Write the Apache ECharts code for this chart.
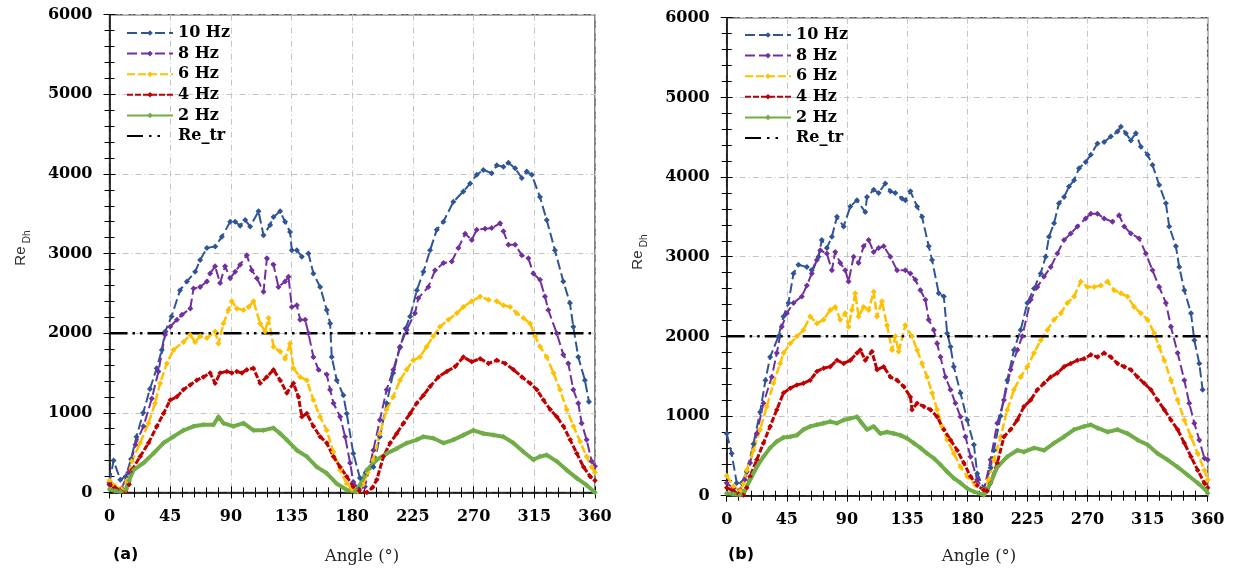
<!DOCTYPE html>
<html>
<head>
<meta charset="utf-8">
<script src="https://cdn.jsdelivr.net/npm/echarts@6/dist/echarts.min.js"></script>
<style>
html,body{margin:0;padding:0;background:#fff;}
#chart{width:1242px;height:571px;}
</style>
</head>
<body>
<div id="chart"></div>
<script>
// ---------------- DATA ----------------
const seriesNames = ['10 Hz', '8 Hz', '6 Hz', '4 Hz', '2 Hz'];
const xTicks = [0, 45, 90, 135, 180, 225, 270, 315, 360];
const yTicks = [0, 1000, 2000, 3000, 4000, 5000, 6000];
const reTransition = [[0, 2000], [360, 2000]];

// Panel (a)
const a10Hz = [[0,120],[3,400],[8,160],[12,200],[16,420],[20,700],[25,1000],[30,1300],[35,1560],[38.8,1790],[41.3,2020],[46,2210],[52.3,2540],[57.4,2650],[63.5,2770],[67.2,2920],[72.2,3070],[78.4,3090],[83.3,3210],[89.5,3400],[93.2,3400],[96.9,3350],[100.6,3420],[104.3,3340],[110.5,3530],[114.2,3230],[119.1,3360],[121.6,3460],[126.5,3530],[130.2,3400],[133.9,3270],[135.2,3040],[138.9,3040],[142.6,2960],[147.5,3000],[151.2,2750],[156.2,2580],[161.1,2290],[163.6,2120],[164.8,1700],[168.5,1410],[173.4,1220],[175.9,990],[180.8,490],[185.7,180],[190,250],[195.7,320],[200.5,700],[205.5,1120],[210.4,1500],[215.4,1820],[219.5,2060],[222.9,2210],[227.9,2540],[232.8,2770],[237.7,3040],[242.7,3300],[247.6,3400],[255,3650],[262.4,3780],[267.4,3880],[272.3,3990],[277.2,4050],[283.4,4010],[287.2,4110],[292.1,4090],[295.8,4140],[300.8,4070],[305.7,3950],[309.4,4030],[313.1,3990],[319.2,3710],[324.2,3420],[330.3,3040],[336.5,2650],[341.4,2380],[343.9,2080],[347.6,1700],[352.5,1410],[355.5,1140]];
const a8Hz = [[0,100],[4,60],[9,50],[14,250],[19.2,600],[25.2,830],[31.4,1180],[36.3,1520],[41.2,1980],[45,2080],[50,2170],[53.7,2230],[59.9,2310],[62.3,2560],[67.2,2580],[72.2,2650],[74.6,2750],[78.3,2840],[82,2630],[85.7,2840],[89.5,2690],[93.2,2770],[96.9,2860],[101.8,2980],[105.5,2790],[109.3,2690],[114.2,2520],[116.7,2940],[121.6,2860],[125.3,2580],[130.2,2650],[132.7,2710],[135.2,2330],[138.9,2350],[141.4,2170],[145.1,2170],[147.5,2000],[151.2,1700],[155,1540],[161.1,1480],[163.6,1290],[166.1,1120],[171,950],[174.7,700],[178.4,370],[180.8,130],[185,40],[189.4,70],[195.6,530],[200.5,910],[205.5,1290],[210.4,1540],[215.4,1830],[220.3,2040],[226.5,2250],[229,2440],[236.4,2580],[241.4,2790],[247.6,2880],[253.8,2900],[258.7,3070],[263.7,3250],[268.6,3170],[272.3,3300],[278.5,3310],[283.4,3320],[289.6,3380],[292.1,3280],[295.8,3110],[300.8,3110],[305.7,2980],[310.6,2940],[314.3,2750],[319.2,2670],[322.9,2460],[325.4,2290],[331.6,2000],[336.5,1730],[340.2,1620],[343.9,1290],[347.6,1120],[350.1,870],[353.8,660],[357.5,390],[360,330]];
const a6Hz = [[0,150],[4,80],[9,40],[13,150],[16.6,390],[22.7,620],[28.9,870],[33.8,1120],[37.5,1370],[42.5,1620],[47.4,1790],[54.9,1890],[59.8,1980],[63.5,1890],[67.2,1960],[72.2,1940],[78.3,2020],[80.8,1870],[84.5,2120],[88.2,2290],[90.7,2400],[94.4,2310],[99.4,2290],[103.1,2330],[106.8,2400],[111.7,2120],[115.4,2020],[117.9,2190],[121.6,1830],[126.5,1770],[130.2,1680],[133.9,1870],[136.4,1560],[141.3,1450],[146.3,1410],[151.2,1160],[156.1,950],[161.1,780],[166,510],[171,280],[175.9,110],[180,40],[184,10],[188,100],[191.5,250],[195.6,410],[200.5,740],[205.5,1040],[210.4,1200],[215.4,1410],[220.3,1540],[225.2,1660],[230.2,1700],[235.1,1830],[240,1960],[245,2080],[251.3,2170],[257.5,2250],[262.4,2330],[268.6,2400],[274.8,2460],[281,2420],[287.2,2400],[292.1,2350],[297.1,2330],[302,2250],[307,2190],[311.9,2120],[315.6,1960],[319.3,1830],[324.2,1700],[329.2,1500],[334.1,1290],[339,1040],[344,830],[348.9,640],[353.8,450],[357.5,320],[360,250]];
const a4Hz = [[0,100],[4,60],[8,20],[12,10],[14.5,100],[16.6,280],[22.7,450],[28.9,620],[35.1,830],[40,990],[45,1160],[49.9,1200],[54.8,1290],[59.8,1350],[64.7,1410],[69.6,1450],[74.6,1500],[78.3,1370],[82,1500],[87,1520],[90.7,1500],[94.4,1520],[98.2,1500],[101.8,1540],[106.7,1560],[111.7,1370],[116.6,1450],[121.6,1540],[126.5,1410],[131.5,1250],[136.4,1370],[140.1,1200],[142.6,950],[146.3,990],[151.2,830],[156.2,700],[161.1,620],[166,450],[171,320],[175.9,200],[180.8,70],[185,20],[190.8,0],[195,60],[198.2,160],[203.1,450],[208.1,620],[213,740],[218,870],[222.9,990],[227.8,1120],[232.8,1220],[237.7,1330],[243.9,1450],[250.1,1520],[256.3,1580],[262.4,1700],[268.6,1640],[274.8,1680],[281,1620],[287.2,1660],[293.4,1620],[299.6,1540],[305.8,1450],[311.9,1370],[316.9,1290],[321.8,1160],[326.8,1040],[331.7,950],[336.6,830],[341.6,660],[346.5,490],[351.5,320],[356.4,200],[360,150]];
const a2Hz = [[0,40],[4,20],[8,10],[12,30],[14.5,150],[17.8,280],[25.2,370],[32.6,490],[40,620],[47.4,700],[54.9,780],[62.3,830],[69.6,850],[77.1,850],[80.8,950],[84.5,870],[91.9,830],[99.4,870],[106.8,780],[114.2,780],[121.6,810],[126.5,740],[131.4,660],[138.9,530],[146.3,450],[153.7,320],[161.1,240],[168.5,110],[176,30],[182.1,10],[186,100],[190.8,280],[198.2,410],[205.6,490],[213,550],[220.4,620],[227.8,660],[232.8,700],[240.2,680],[247.6,620],[255,660],[262.4,720],[269.8,780],[277.2,740],[284.6,720],[292,700],[299.5,620],[306.9,510],[314.3,410],[319.2,450],[324.2,470],[331.6,390],[339,280],[346.4,180],[353.8,90],[360,0]];

// Panel (b)
const b10Hz = [[0,780],[3.7,530],[7.5,160],[11.2,160],[15,300],[20,650],[25,1050],[29,1450],[32.5,1740],[38.7,2000],[42.5,2250],[46.2,2420],[50,2790],[53.7,2900],[60,2870],[63.7,2830],[68.7,3000],[71.2,3210],[75,3110],[78.7,3250],[82.5,3500],[87.5,3380],[92.5,3630],[97.5,3710],[103.7,3560],[105,3750],[110,3840],[113.7,3800],[118.7,3920],[122.5,3820],[126.2,3800],[131.2,3730],[133.7,3710],[137.5,3820],[142.5,3630],[146.2,3500],[151.2,3130],[153.7,2960],[158.7,2540],[162.5,2500],[165,2040],[167.5,1870],[170,1620],[175,1290],[180,950],[185,640],[187.5,280],[192.5,90],[197.5,350],[200,570],[205,1000],[210,1450],[215,1830],[220,2080],[225,2420],[230,2600],[235,2790],[238.7,3000],[241.2,3250],[245,3420],[248.7,3670],[252.5,3750],[256.2,3880],[260,3960],[263.7,4110],[268.7,4190],[272.5,4280],[277.5,4420],[282.5,4440],[287.5,4510],[292.5,4570],[295,4630],[298.7,4550],[302.5,4460],[306.2,4550],[310,4380],[315,4280],[318.7,4150],[323.7,3900],[328.7,3670],[331.2,3380],[336.2,3130],[338.7,2870],[342.5,2580],[347.5,2290],[350,1950],[353.7,1660],[356.2,1330]];
const b8Hz = [[0,160],[5,90],[10,70],[13.5,200],[17.5,410],[22.5,780],[27.5,1160],[33.7,1490],[37.5,1790],[41.2,2120],[45,2290],[50,2420],[56.2,2500],[60,2640],[63.7,2790],[67.5,2960],[70,3080],[75,3040],[78.7,2830],[81.2,3060],[85,2920],[88.7,2830],[91.2,2690],[95,3000],[98.7,2920],[102.5,3130],[106.2,3210],[110,3060],[113.7,3110],[117.5,3130],[122.5,3000],[127.5,2830],[133.7,2830],[137.5,2790],[141.2,2710],[145,2580],[148.7,2460],[151.2,2210],[155,2080],[157.5,1910],[160,1740],[163.7,1490],[167.5,1330],[171.2,1160],[175,990],[178.7,740],[182.5,490],[187.5,200],[192.5,70],[197.5,450],[202.5,910],[207.5,1200],[212.5,1580],[217.5,1830],[221.2,2000],[227.5,2460],[232.5,2620],[237.5,2750],[242.5,2870],[247.5,3040],[252.5,3210],[257.5,3290],[262.5,3380],[268.7,3480],[272.5,3540],[277.5,3540],[282.5,3480],[288.7,3440],[293.7,3520],[297.5,3380],[302.5,3290],[308.7,3230],[313.7,3040],[318.7,2830],[323.7,2620],[328.7,2420],[332.5,2120],[337.5,1790],[342.5,1450],[346.2,1160],[350,910],[353.7,700],[357.5,470],[360,450]];
const b6Hz = [[0,250],[5,120],[10,60],[12.5,150],[15,320],[20,570],[25,830],[30,1120],[35,1410],[40,1660],[42.5,1790],[47.5,1910],[52.5,2000],[57.5,2080],[62.5,2250],[67.5,2160],[72.5,2210],[77.5,2330],[81.2,2370],[85,2210],[88.7,2290],[91.2,2120],[93.7,2330],[96.2,2540],[98.7,2250],[102.5,2370],[106.2,2330],[110,2560],[112.5,2250],[116.2,2440],[120,2140],[123.7,1830],[126.2,2000],[128.7,1810],[133.7,2140],[138.7,2000],[142.5,1830],[146.2,1660],[150,1490],[153.7,1290],[157.5,1080],[161.2,870],[165,700],[170,530],[175,360],[180,240],[186.2,130],[192.5,70],[196,200],[200,450],[205,740],[210,1080],[215,1330],[220,1490],[225,1620],[230,1790],[235,1950],[240,2080],[245,2210],[250,2290],[255,2420],[260,2500],[265,2690],[270,2620],[275,2620],[280,2640],[285,2690],[290,2580],[295,2540],[300,2500],[305,2370],[310,2290],[315,2210],[320,2040],[323.7,1870],[327.5,1700],[332.5,1450],[337.5,1200],[342.5,950],[347.5,740],[352.5,530],[357.5,320],[360,200]];
const b4Hz = [[0,100],[5,60],[9,20],[12.5,10],[15,100],[17.5,240],[22.5,450],[27.5,660],[32.5,870],[37.5,1080],[42.5,1290],[47.5,1350],[52.5,1390],[57.5,1410],[62.5,1450],[67.5,1560],[72.5,1600],[77.5,1620],[82.5,1700],[87.5,1660],[92.5,1700],[97.5,1790],[100,1830],[103.7,1700],[108.7,1810],[112.5,1580],[117.5,1620],[122.5,1490],[127.5,1450],[132.5,1370],[137.5,1240],[138.7,1080],[142.5,1160],[147.5,1120],[152.5,1080],[157.5,990],[162.5,830],[167.5,700],[172.5,570],[177.5,410],[182.5,240],[187.5,130],[192.5,70],[195,60],[197.5,160],[202.5,410],[207.5,740],[212.5,830],[217.5,950],[222.5,1120],[227.5,1200],[232.5,1330],[237.5,1410],[242.5,1490],[247.5,1540],[252.5,1620],[257.5,1660],[262.5,1700],[267.5,1720],[272.5,1770],[277.5,1740],[282.5,1790],[287.5,1740],[292.5,1660],[297.5,1620],[302.5,1580],[307.5,1490],[312.5,1410],[317.5,1330],[322.5,1200],[327.5,1080],[332.5,950],[337.5,830],[342.5,660],[347.5,490],[352.5,320],[357.5,160],[360,100]];
const b2Hz = [[0,30],[5,20],[10,10],[13.5,60],[17.5,200],[22.5,360],[27.5,490],[32.5,600],[37.5,680],[42.5,730],[47.5,740],[52.5,760],[57.5,830],[62.5,870],[67.5,890],[72.5,910],[77.5,930],[82.5,910],[87.5,950],[92.5,970],[97.5,990],[101.2,910],[105,830],[110,870],[115,780],[120,800],[125,780],[130,760],[135,720],[140,660],[145,600],[150,530],[155,470],[160,390],[165,300],[170,220],[175,160],[180,90],[185,50],[192.5,10],[197.5,160],[202.5,360],[210,490],[217.5,570],[222.5,550],[230,600],[237.5,570],[245,660],[252.5,740],[260,830],[267.5,870],[272.5,890],[277.5,850],[285,800],[292.5,830],[300,780],[307.5,700],[315,640],[322.5,530],[330,450],[337.5,360],[345,260],[352.5,160],[358.7,70],[360,30]];

// ---------------- STYLE ----------------
const colors = ['#2f5597', '#7030a0', '#ffc000', '#c00000', '#70ad47'];
const lineTypes = [[10,4], [10,4], [8,3], [6,2], 'solid'];
const lineWidths = [2, 2, 2.5, 3, 4];
const symSizes = [6, 6, 6, 5.5, 5.5];
const tickFont = { fontFamily: 'DejaVu Serif', fontWeight: 'bold', fontSize: 16, color: '#000' };

const panels = [
  { grid: { left: 109.5, top: 14.7, width: 485.5, height: 477.7 }, data: [a10Hz, a8Hz, a6Hz, a4Hz, a2Hz], legend: { left: 126, top: 25 } },
  { grid: { left: 726.7, top: 17.7, width: 481, height: 478 }, data: [b10Hz, b8Hz, b6Hz, b4Hz, b2Hz], legend: { left: 744, top: 27 } }
];

const grids = [], xAxes = [], yAxes = [], series = [], legends = [];
panels.forEach((p, i) => {
  grids.push(Object.assign({ show: true, borderColor: '#595959', borderWidth: 1.5, containLabel: false }, p.grid));
  const common = { min: 0, gridIndex: i };
  xAxes.push(Object.assign({}, common, {
    type: 'value', max: 360, interval: 45, position: 'bottom',
    axisLine: { show: true, lineStyle: { color: '#000', width: 1.5 } },
    axisTick: { show: true, length: 6, lineStyle: { color: '#000', width: 1 } },
    minorTick: { show: true, splitNumber: 5, length: 5, lineStyle: { color: '#000', width: 1 } },
    axisLabel: Object.assign({ margin: 16, formatter: v => xTicks.includes(v) ? String(v) : '' }, tickFont),
    splitLine: { show: true, lineStyle: { color: '#c4c4c4', type: [6, 3, 1, 3], width: 1 } }
  }));
  xAxes.push(Object.assign({}, common, {
    type: 'value', max: 360, interval: 45, position: 'bottom',
    axisLine: { show: false },
    axisTick: { show: true, inside: true, length: 6, lineStyle: { color: '#000', width: 1 } },
    minorTick: { show: true, splitNumber: 5, length: 5, lineStyle: { color: '#000', width: 1 } },
    axisLabel: { show: false }, splitLine: { show: false }
  }));
  yAxes.push(Object.assign({}, common, {
    type: 'value', max: 6000, interval: 1000, position: 'left',
    axisLine: { show: true, lineStyle: { color: '#000', width: 1.5 } },
    axisTick: { show: true, length: 6, lineStyle: { color: '#000', width: 1 } },
    minorTick: { show: true, splitNumber: 5, length: 5, lineStyle: { color: '#000', width: 1 } },
    axisLabel: Object.assign({ margin: 17, formatter: v => yTicks.includes(v) ? String(v) : '' }, tickFont),
    splitLine: { show: true, lineStyle: { color: '#c4c4c4', type: [6, 3, 1, 3], width: 1 } }
  }));
  yAxes.push(Object.assign({}, common, {
    type: 'value', max: 6000, interval: 1000, position: 'left',
    axisLine: { show: false },
    axisTick: { show: true, inside: true, length: 6, lineStyle: { color: '#000', width: 1 } },
    minorTick: { show: true, splitNumber: 5, length: 5, lineStyle: { color: '#000', width: 1 } },
    axisLabel: { show: false }, splitLine: { show: false }
  }));
  p.data.forEach((d, k) => {
    series.push({
      name: seriesNames[k], type: 'line', xAxisIndex: 2 * i, yAxisIndex: 2 * i,
      data: d, symbol: 'diamond', symbolSize: symSizes[k], showAllSymbol: true,
      lineStyle: { color: colors[k], width: lineWidths[k], type: lineTypes[k] },
      itemStyle: { color: colors[k] }, emphasis: { disabled: true }
    });
  });
  series.push({
    name: 'Re_tr', type: 'line', xAxisIndex: 2 * i, yAxisIndex: 2 * i,
    data: reTransition, symbol: 'none',
    lineStyle: { color: '#000', width: 2.5, type: [18, 5, 2.5, 5, 2.5, 5] },
    itemStyle: { color: '#000' }, emphasis: { disabled: true }
  });
  legends.push({
    orient: 'vertical', left: p.legend.left, top: p.legend.top, padding: 0,
    itemWidth: 46, itemHeight: 7, itemGap: 4.6,
    lineStyle: { width: 2 },
    data: seriesNames.concat([{ name: 'Re_tr', itemStyle: { opacity: 0 }, lineStyle: { type: [16, 6, 2.5, 6, 2.5, 20] } }]),
    textStyle: { fontFamily: 'DejaVu Serif', fontWeight: 'bold', fontSize: 16, lineHeight: 16, color: '#000' },
    selectedMode: false
  });
});

const textBase = { fontFamily: 'DejaVu Serif', fill: '#222' };
const graphics = [
  { type: 'text', left: 113, top: 547, style: { text: '(a)', fontFamily: 'DejaVu Sans', fontWeight: 'bold', fontSize: 16, fill: '#000' } },
  { type: 'text', left: 728, top: 547, style: { text: '(b)', fontFamily: 'DejaVu Sans', fontWeight: 'bold', fontSize: 16, fill: '#000' } },
  { type: 'text', x: 362, y: 557, style: Object.assign({ text: 'Angle (°)', fontSize: 16.5, align: 'center', verticalAlign: 'middle' }, textBase) },
  { type: 'text', x: 979, y: 557, style: Object.assign({ text: 'Angle (°)', fontSize: 16.5, align: 'center', verticalAlign: 'middle' }, textBase) }
];
[{ x: 19, y: 248 }, { x: 636, y: 252 }].forEach(pos => {
  graphics.push({
    type: 'text', x: pos.x, y: pos.y, rotation: Math.PI / 2,
    style: {
      text: '{r|Re} {s|Dh}', align: 'center', verticalAlign: 'middle',
      rich: {
        r: { fontFamily: 'Liberation Sans', fontSize: 15, fill: '#333', lineHeight: 18, verticalAlign: 'bottom' },
        s: { fontFamily: 'Liberation Sans', fontSize: 10, fill: '#333', lineHeight: 18, verticalAlign: 'bottom', padding: [0, 0, -4, 0] }
      }
    }
  });
});

const chart = echarts.init(document.getElementById('chart'), null, { renderer: 'canvas' });
chart.setOption({
  animation: false,
  backgroundColor: '#fff',
  grid: grids, xAxis: xAxes, yAxis: yAxes,
  legend: legends, series: series, graphic: graphics
});
</script>
</body>
</html>
